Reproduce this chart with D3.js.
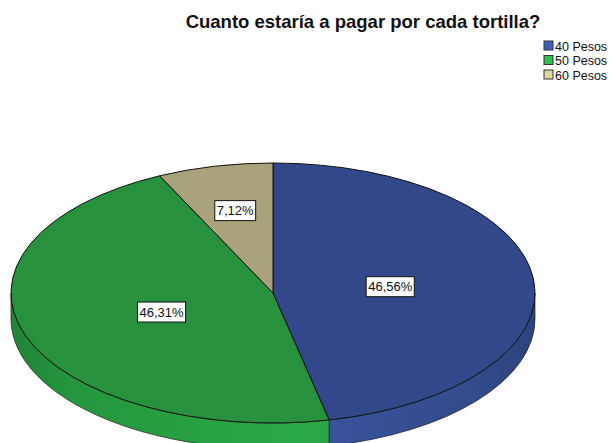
<!DOCTYPE html>
<html>
<head>
<meta charset="utf-8">
<script src="https://cdn.jsdelivr.net/npm/d3@7"></script>
<style>
  body { margin: 0; background: #fff; }
  svg { font-family: "Liberation Sans", Arial, sans-serif; }
</style>
</head>
<body>
<div id="chart"></div>
<script>
const categories = ["40 Pesos", "50 Pesos", "60 Pesos"];
const percents = [46.56, 46.31, 7.12];
const topColors = ["#33488a", "#27913e", "#a9a27a"];
const sideColors = ["#3a559f", "#2aaa46", "#bdb58a"];
const legendColors = ["#3b5dbf", "#33bf50", "#ddd9a2"];

const width = 613, height = 443;
const cx = 273, cy = 293, rx = 262, ry = 130, depth = 26;

const svg = d3.select("#chart").append("svg")
    .attr("width", width)
    .attr("height", height);

const data = categories.map((c, i) => ({ name: c, value: percents[i], i: i }));
const pie = d3.pie().sort(null).value(d => d.value);
const slices = pie(data);

const topColor = d3.scaleOrdinal().domain(categories).range(topColors);
const sideColor = d3.scaleOrdinal().domain(categories).range(sideColors);
const legColor = d3.scaleOrdinal().domain(categories).range(legendColors);

// point on ellipse for angle measured clockwise from 12 o'clock
const pt = (a, dy) => [cx + rx * Math.sin(a), cy - ry * Math.cos(a) + (dy || 0)];

// side gradients, darker at the edges, lighter in front
const defs = svg.append("defs");
categories.forEach((c, i) => {
    const g = defs.append("linearGradient")
        .attr("id", "side" + i)
        .attr("gradientUnits", "userSpaceOnUse")
        .attr("x1", cx - rx).attr("x2", cx + rx)
        .attr("y1", 0).attr("y2", 0);
    const base = d3.color(sideColor(c));
    g.append("stop").attr("offset", "0%").attr("stop-color", base.darker(0.7));
    g.append("stop").attr("offset", "12%").attr("stop-color", base.darker(0.35));
    g.append("stop").attr("offset", "55%").attr("stop-color", base);
    g.append("stop").attr("offset", "88%").attr("stop-color", base.darker(0.35));
    g.append("stop").attr("offset", "100%").attr("stop-color", base.darker(0.7));
});

// sides (front half only)
slices.forEach(s => {
    const a0 = Math.max(s.startAngle, Math.PI / 2);
    const a1 = Math.min(s.endAngle, Math.PI * 1.5);
    if (a1 <= a0) return;
    const p0 = pt(a0), p1 = pt(a1), q1 = pt(a1, depth), q0 = pt(a0, depth);
    const d = `M${p0}A${rx},${ry} 0 0 1 ${p1}L${q1}A${rx},${ry} 0 0 0 ${q0}Z`;
    svg.append("path")
        .attr("d", d)
        .attr("fill", `url(#side${s.data.i})`)
        .attr("stroke", "#1e1e1e")
        .attr("stroke-width", 0.7);
});

// top faces: circular arcs squashed into an ellipse
const arc = d3.arc().innerRadius(0).outerRadius(rx);
const face = svg.append("g")
    .attr("transform", `translate(${cx},${cy}) scale(1,${ry / rx})`);
face.selectAll("path")
    .data(slices)
    .join("path")
    .attr("d", arc)
    .attr("fill", d => topColor(d.data.name))
    .attr("stroke", "#111")
    .attr("stroke-width", 1)
    .attr("vector-effect", "non-scaling-stroke");

// value labels
const fmt = v => v.toFixed(2).replace(".", ",") + "%";
slices.forEach(s => {
    const mid = (s.startAngle + s.endAngle) / 2;
    const f = s.data.value < 10 ? 0.65 : 0.45;
    const x = cx + rx * f * Math.sin(mid);
    const y = cy - ry * f * Math.cos(mid);
    const g = svg.append("g").attr("transform", `translate(${x},${y})`);
    const t = g.append("text")
        .attr("text-anchor", "middle")
        .attr("dy", "0.36em")
        .attr("font-size", 13)
        .attr("fill", "#111")
        .text(fmt(s.data.value));
    const w = t.node().getComputedTextLength() + 4;
    g.insert("rect", "text")
        .attr("x", -w / 2).attr("y", -10)
        .attr("width", w).attr("height", 20)
        .attr("fill", "#fff")
        .attr("stroke", "#111")
        .attr("stroke-width", 1);
});

// title
svg.append("text")
    .attr("x", 363).attr("y", 28)
    .attr("text-anchor", "middle")
    .attr("font-size", 18.5)
    .attr("font-weight", "bold")
    .attr("fill", "#111")
    .text("Cuanto estaría a pagar por cada tortilla?");

// legend
const leg = svg.append("g").attr("transform", "translate(544,41)");
const item = leg.selectAll("g")
    .data(categories)
    .join("g")
    .attr("transform", (d, i) => `translate(0,${i * 14.5})`);
item.append("rect")
    .attr("width", 9).attr("height", 9)
    .attr("fill", d => legColor(d))
    .attr("stroke", "#333")
    .attr("stroke-width", 1);
item.append("text")
    .attr("x", 11).attr("y", 9.5)
    .attr("font-size", 12.5)
    .attr("fill", "#111")
    .text(d => d);
</script>
</body>
</html>
